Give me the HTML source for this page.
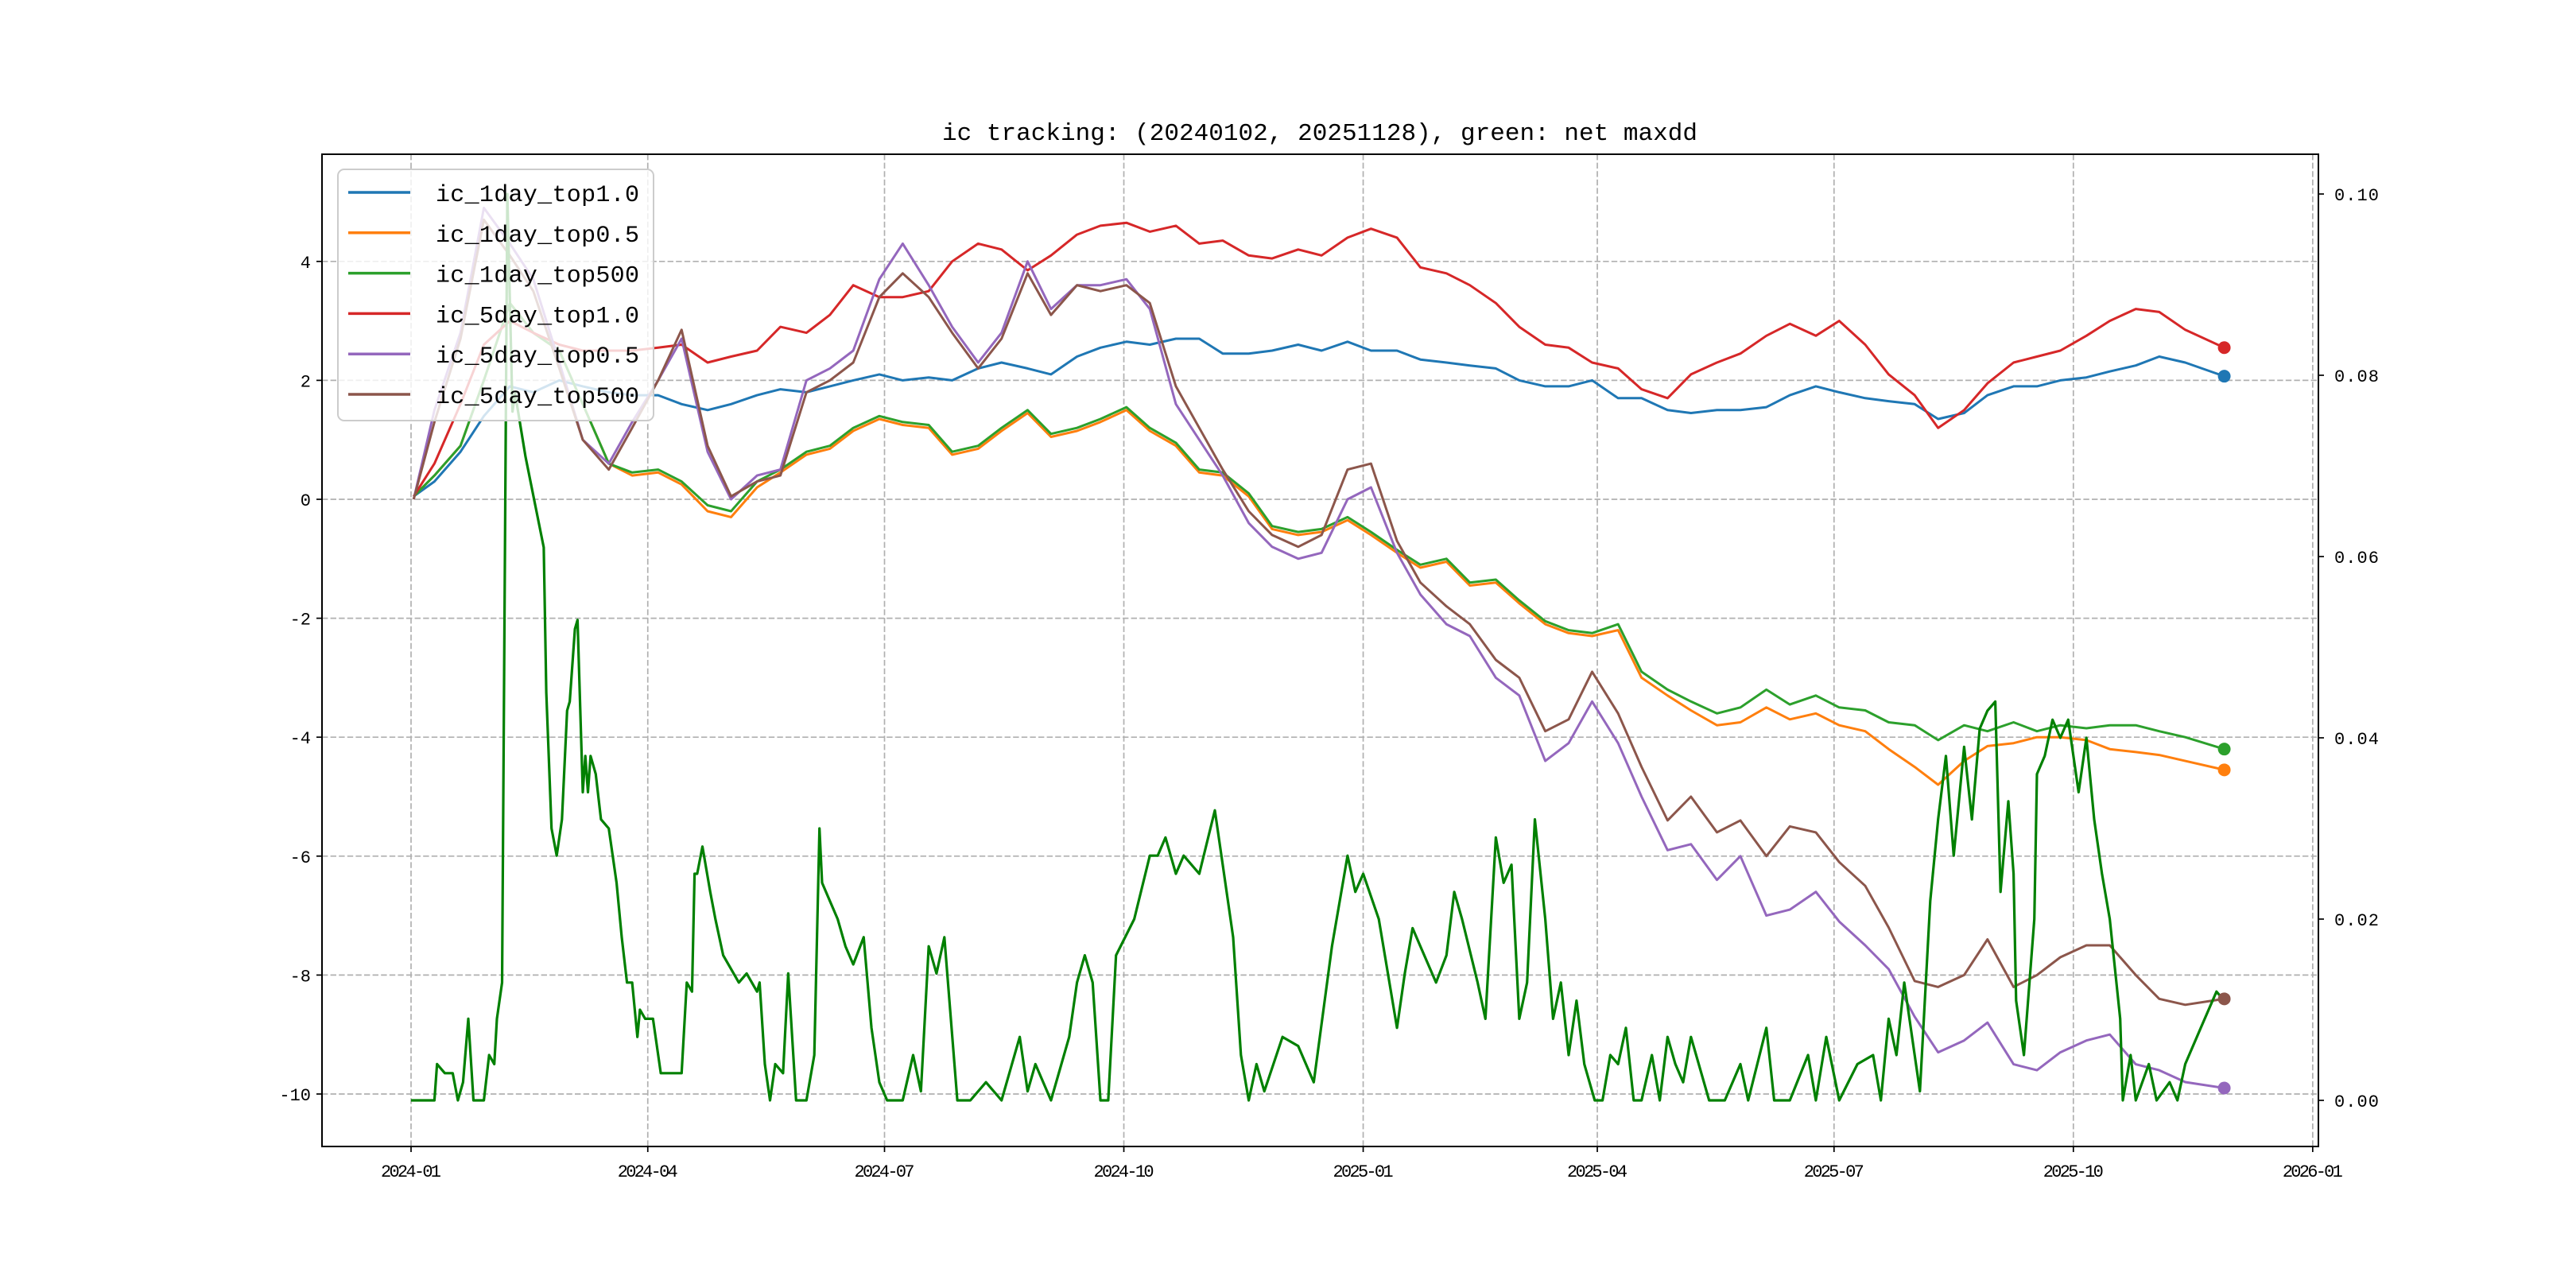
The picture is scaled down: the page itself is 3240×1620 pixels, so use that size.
<!DOCTYPE html>
<html><head><meta charset="utf-8">
<style>
html,body{margin:0;padding:0;background:#fff;}
svg{display:block;}
text{font-family:"Liberation Mono","Noto Sans CJK SC",monospace;fill:#000;}
</style></head>
<body>
<svg id="chart" width="3240" height="1620" viewBox="0 0 3240 1620" xmlns="http://www.w3.org/2000/svg">
<rect x="0" y="0" width="3240" height="1620" fill="#fff"/>
<text x="1660" y="176" font-size="31" text-anchor="middle" textLength="950">ic tracking: (20240102, 20251128), green: net maxdd</text>
<g id="grid"></g>
<g id="axes"></g>
<g id="series"></g>
<g id="legend"></g>
</svg>
<script>
// ---- data (day = days since 2024-01-01) ----
const days = [1,9,19,28,38,47,57,66,76,85,95,104,114,123,133,142,152,161,170,180,189,199,208,218,227,237,246,256,265,275,284,294,303,312,322,331,341,350,360,369,379,388,398,407,417,426,436,445,454,464,473,483,492,502,511,521,530,540,549,559,568,578,587,597,606,616,625,634,644,653,663,672,682,697];
const ic1dTop10 = [0.05,0.3,0.8,1.4,1.9,1.8,2.0,1.9,1.8,1.75,1.75,1.6,1.5,1.6,1.75,1.85,1.8,1.9,2.0,2.1,2.0,2.05,2.0,2.2,2.3,2.2,2.1,2.4,2.55,2.65,2.6,2.7,2.7,2.45,2.45,2.5,2.6,2.5,2.65,2.5,2.5,2.35,2.3,2.25,2.2,2.0,1.9,1.9,2.0,1.7,1.7,1.5,1.45,1.5,1.5,1.55,1.75,1.9,1.8,1.7,1.65,1.6,1.35,1.45,1.75,1.9,1.9,2.0,2.05,2.15,2.25,2.4,2.3,2.07];
const ic1dTop05 = [0.05,0.4,0.9,2.0,3.3,2.8,2.5,1.6,0.6,0.4,0.45,0.25,-0.2,-0.3,0.2,0.45,0.75,0.85,1.15,1.35,1.25,1.2,0.75,0.85,1.15,1.45,1.05,1.15,1.3,1.5,1.15,0.9,0.45,0.4,0.05,-0.5,-0.6,-0.55,-0.35,-0.6,-0.9,-1.15,-1.05,-1.45,-1.4,-1.75,-2.1,-2.25,-2.3,-2.2,-3.0,-3.3,-3.55,-3.8,-3.75,-3.5,-3.7,-3.6,-3.8,-3.9,-4.2,-4.5,-4.8,-4.4,-4.15,-4.1,-4.0,-4.0,-4.05,-4.2,-4.25,-4.3,-4.4,-4.55];
const ic1dTop500 = [0.05,0.4,0.9,2.0,3.3,2.8,2.5,1.6,0.6,0.45,0.5,0.3,-0.1,-0.2,0.3,0.5,0.8,0.9,1.2,1.4,1.3,1.25,0.8,0.9,1.2,1.5,1.1,1.2,1.35,1.55,1.2,0.95,0.5,0.45,0.1,-0.45,-0.55,-0.5,-0.3,-0.55,-0.85,-1.1,-1.0,-1.4,-1.35,-1.7,-2.05,-2.2,-2.25,-2.1,-2.9,-3.2,-3.4,-3.6,-3.5,-3.2,-3.45,-3.3,-3.5,-3.55,-3.75,-3.8,-4.05,-3.8,-3.9,-3.75,-3.9,-3.8,-3.85,-3.8,-3.8,-3.9,-4.0,-4.2];
const ic5dTop10 = [0.05,0.6,1.6,2.6,3.0,2.8,2.6,2.5,2.5,2.5,2.55,2.6,2.3,2.4,2.5,2.9,2.8,3.1,3.6,3.4,3.4,3.5,4.0,4.3,4.2,3.85,4.1,4.45,4.6,4.65,4.5,4.6,4.3,4.35,4.1,4.05,4.2,4.1,4.4,4.55,4.4,3.9,3.8,3.6,3.3,2.9,2.6,2.55,2.3,2.2,1.85,1.7,2.1,2.3,2.45,2.75,2.95,2.75,3.0,2.6,2.1,1.75,1.2,1.5,1.95,2.3,2.4,2.5,2.75,3.0,3.2,3.15,2.85,2.55];
const ic5dTop05 = [0.0,1.5,2.8,4.9,4.3,3.7,2.3,1.0,0.6,1.3,2.0,2.7,0.8,0.0,0.4,0.5,2.0,2.2,2.5,3.7,4.3,3.6,2.9,2.3,2.8,4.0,3.2,3.6,3.6,3.7,3.2,1.6,1.0,0.4,-0.4,-0.8,-1.0,-0.9,0.0,0.2,-0.9,-1.6,-2.1,-2.3,-3.0,-3.3,-4.4,-4.1,-3.4,-4.1,-5.0,-5.9,-5.8,-6.4,-6.0,-7.0,-6.9,-6.6,-7.1,-7.5,-7.9,-8.7,-9.3,-9.1,-8.8,-9.5,-9.6,-9.3,-9.1,-9.0,-9.5,-9.6,-9.8,-9.9];
const ic5dTop500 = [0.0,1.3,2.7,4.7,4.1,3.5,2.2,1.0,0.5,1.2,2.0,2.85,0.9,0.05,0.3,0.4,1.8,2.0,2.3,3.4,3.8,3.4,2.8,2.2,2.7,3.8,3.1,3.6,3.5,3.6,3.3,1.9,1.2,0.5,-0.2,-0.6,-0.8,-0.6,0.5,0.6,-0.7,-1.4,-1.8,-2.1,-2.7,-3.0,-3.9,-3.7,-2.9,-3.6,-4.5,-5.4,-5.0,-5.6,-5.4,-6.0,-5.5,-5.6,-6.1,-6.5,-7.2,-8.1,-8.2,-8.0,-7.4,-8.2,-8.0,-7.7,-7.5,-7.5,-8.0,-8.4,-8.5,-8.4];
const maxddDays = [0,9,10,13,16,18,20,22,24,28,30,32,33,35,37,39,40,44,51,52,54,56,58,60,61,63,64,66,67,68,69,71,73,76,79,81,83,85,87,88,90,93,96,101,104,106,108,109,110,112,115,117,120,126,129,133,134,136,138,140,143,145,148,152,155,157,158,161,164,167,170,174,177,180,183,189,193,196,199,202,205,210,215,221,227,234,237,240,246,253,256,259,262,265,268,271,278,284,287,290,294,297,303,309,312,316,319,322,325,328,335,341,347,354,360,363,366,372,379,382,385,388,394,398,401,404,410,413,417,420,423,426,429,432,436,439,442,445,448,451,455,458,461,464,467,470,473,477,480,483,486,489,492,499,505,511,514,521,524,530,537,540,544,549,556,562,565,568,571,574,578,580,584,587,590,593,597,600,603,606,609,611,614,616,617,620,624,625,628,631,634,637,641,644,647,650,653,657,658,661,663,668,671,676,679,682,688,694,697];
const maxddVals = [0.000,0.000,0.004,0.003,0.003,0.000,0.002,0.009,0.000,0.000,0.005,0.004,0.009,0.013,0.100,0.076,0.078,0.071,0.061,0.045,0.030,0.027,0.031,0.043,0.044,0.052,0.053,0.034,0.038,0.034,0.038,0.036,0.031,0.030,0.024,0.018,0.013,0.013,0.007,0.010,0.009,0.009,0.003,0.003,0.003,0.013,0.012,0.025,0.025,0.028,0.023,0.020,0.016,0.013,0.014,0.012,0.013,0.004,0.000,0.004,0.003,0.014,0.000,0.000,0.005,0.030,0.024,0.022,0.020,0.017,0.015,0.018,0.008,0.002,0.000,0.000,0.005,0.001,0.017,0.014,0.018,0.000,0.000,0.002,0.000,0.007,0.001,0.004,0.000,0.007,0.013,0.016,0.013,0.000,0.000,0.016,0.020,0.027,0.027,0.029,0.025,0.027,0.025,0.032,0.026,0.018,0.005,0.000,0.004,0.001,0.007,0.006,0.002,0.017,0.027,0.023,0.025,0.020,0.008,0.014,0.019,0.017,0.013,0.016,0.023,0.020,0.013,0.009,0.029,0.024,0.026,0.009,0.013,0.031,0.020,0.009,0.013,0.005,0.011,0.004,0.000,0.000,0.005,0.004,0.008,0.000,0.000,0.005,0.000,0.007,0.004,0.002,0.007,0.000,0.000,0.004,0.000,0.008,0.000,0.000,0.005,0.000,0.007,0.000,0.004,0.005,0.000,0.009,0.005,0.013,0.005,0.001,0.022,0.031,0.038,0.027,0.039,0.031,0.041,0.043,0.044,0.023,0.033,0.025,0.011,0.005,0.020,0.036,0.038,0.042,0.040,0.042,0.034,0.040,0.031,0.025,0.020,0.009,0.000,0.005,0.000,0.004,0.000,0.002,0.000,0.004,0.008,0.012,0.011];
const seriesNames = ["ic_1day_top1.0","ic_1day_top0.5","ic_1day_top500","ic_5day_top1.0","ic_5day_top0.5","ic_5day_top500"];
const xTickLabels = ["2024-01","2024-04","2024-07","2024-10","2025-01","2025-04","2025-07","2025-10","2026-01"];
const xTickDays = [0,91,182,274,366,456,547,639,731];
const yLeftTicks = [4,2,0,-2,-4,-6,-8,-10];
const yRightTicks = [0.10,0.08,0.06,0.04,0.02,0.00];

const NS="http://www.w3.org/2000/svg";
const AX={l:405,r:2916,t:194,b:1442};
const xs=d=>517+d*3.272;
const yL=v=>628-v*74.8;
const yR=v=>1384-v*11400;
function mk(tag,attrs,parent){const e=document.createElementNS(NS,tag);for(const k in attrs)e.setAttribute(k,attrs[k]);parent.appendChild(e);return e;}
const grid=document.getElementById('grid'),axes=document.getElementById('axes'),ser=document.getElementById('series'),leg=document.getElementById('legend');

xTickDays.forEach((d,i)=>{
  const x=xs(d);
  const g=mk('line',{x1:x,x2:x,y1:AX.t,y2:AX.b,stroke:'#b0b0b0','stroke-width':1.7,'stroke-dasharray':'7.4,3.2'},grid);
  
  
  const t=mk('line',{x1:x,x2:x,y1:AX.b,y2:AX.b+7,stroke:'#000','stroke-width':1.7},axes);
  
  
  const l=mk('text',{x:x,y:AX.b+38,'font-size':22,'text-anchor':'middle',textLength:76},axes);
  l.textContent=xTickLabels[i];
  
  
});
yLeftTicks.forEach(v=>{
  const y=yL(v);
  const g=mk('line',{x1:AX.l,x2:AX.r,y1:y,y2:y,stroke:'#b0b0b0','stroke-width':1.7,'stroke-dasharray':'7.4,3.2'},grid);
  
  
  const t=mk('line',{x1:AX.l-7,x2:AX.l,y1:y,y2:y,stroke:'#000','stroke-width':1.7},axes);
  
  
  const l=mk('text',{x:AX.l-14,y:y+8,'font-size':22,'text-anchor':'end'},axes);
  l.textContent=String(v);
  
  
});
yRightTicks.forEach(v=>{
  const y=yR(v);
  const t=mk('line',{x1:AX.r,x2:AX.r+7,y1:y,y2:y,stroke:'#000','stroke-width':1.7},axes);
  
  
  const l=mk('text',{x:AX.r+20,y:y+8,'font-size':22,textLength:56},axes);
  l.textContent=v.toFixed(2);
  
  
});
const frame=mk('rect',{x:AX.l,y:AX.t,width:AX.r-AX.l,height:AX.b-AX.t,fill:'none',stroke:'#000','stroke-width':2},axes);



const colors=['#1f77b4','#ff7f0e','#2ca02c','#d62728','#9467bd','#8c564b'];
const allVals=[ic1dTop10,ic1dTop05,ic1dTop500,ic5dTop10,ic5dTop05,ic5dTop500];
allVals.forEach((vals,si)=>{
  const pts=vals.map((v,i)=>xs(days[i]).toFixed(1)+','+yL(v).toFixed(1)).join(' ');
  const p=mk('polyline',{points:pts,fill:'none',stroke:colors[si],'stroke-width':3,'stroke-linejoin':'round'},ser);
  
  
});
const mpts=maxddVals.map((v,i)=>xs(maxddDays[i]).toFixed(1)+','+yR(v).toFixed(1)).join(' ');
const mline=mk('polyline',{points:mpts,fill:'none',stroke:'#008000','stroke-width':3.2,'stroke-linejoin':'round'},ser);


allVals.forEach((vals,si)=>{
  const n=vals.length-1;
  const c=mk('circle',{cx:xs(days[n]),cy:yL(vals[n]),r:8,fill:colors[si]},ser);
  
  
});

const lb=mk('rect',{x:425,y:213,width:397,height:316,rx:8,fill:'#fff','fill-opacity':0.8,stroke:'#cccccc','stroke-width':2},leg);


seriesNames.forEach((nm,i)=>{
  const y=242+i*50.8;
  const l=mk('line',{x1:438,x2:516,y1:y,y2:y,stroke:colors[i],'stroke-width':3.5},leg);
  
  
  const t=mk('text',{x:548,y:y+11,'font-size':30,textLength:256},leg);
  t.textContent=nm;
  
  
});
</script>
</body></html>
